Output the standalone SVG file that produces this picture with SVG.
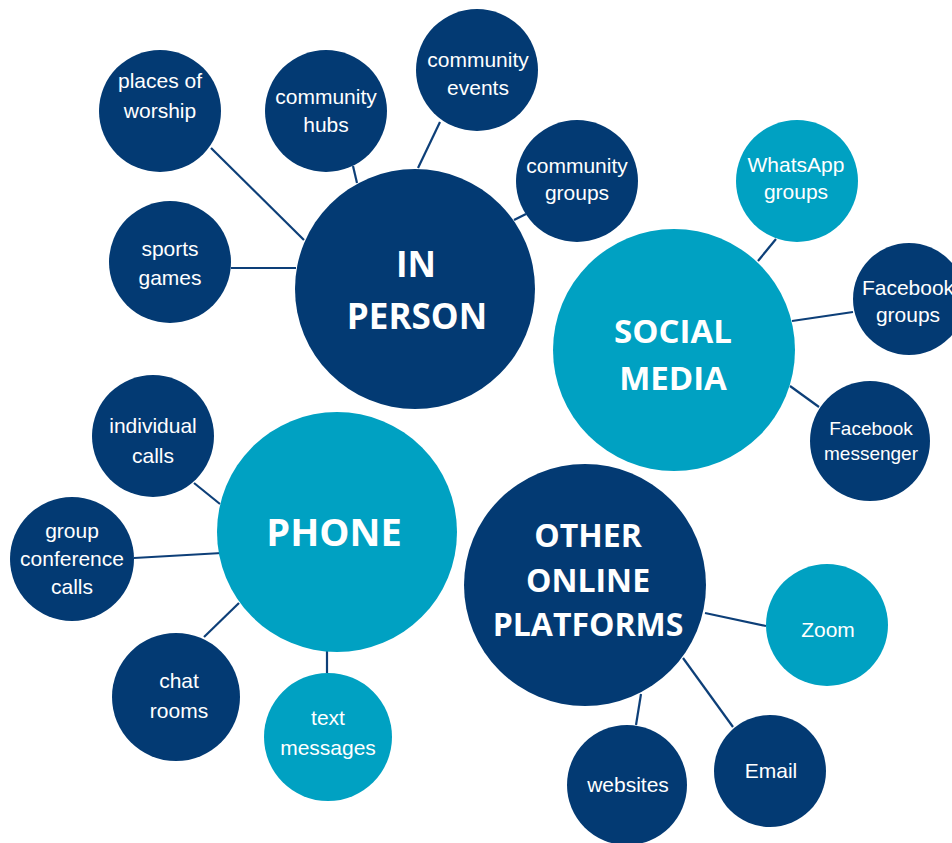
<svg xmlns="http://www.w3.org/2000/svg" width="952" height="843" viewBox="0 0 952 843">
  <style>
    .navy { fill: #033a73; }
    .teal { fill: #00a1c2; }
    .link { stroke: #0d3f78; stroke-width: 2.2; fill: none; }
    .lbl { fill: #ffffff; font-family: "Liberation Sans", Arial, sans-serif; font-size: 21px; text-anchor: middle; }
    .sm { font-size: 19px; }
    .hub { fill: #ffffff; font-family: "Open Sans", "Liberation Sans", sans-serif; font-weight: 700; text-anchor: middle; font-size: 33px; }
  </style>
  <rect width="952" height="843" fill="#ffffff"/>

  <!-- connectors -->
  <g id="connectors">
    <line class="link" x1="211" y1="148" x2="304" y2="240"/>
    <line class="link" x1="231" y1="268" x2="296" y2="268"/>
    <line class="link" x1="353" y1="166" x2="357" y2="183"/>
    <line class="link" x1="440" y1="122" x2="418" y2="168"/>
    <line class="link" x1="526" y1="214" x2="514" y2="220"/>
    <line class="link" x1="776" y1="239" x2="758" y2="261"/>
    <line class="link" x1="792" y1="321" x2="853" y2="312"/>
    <line class="link" x1="790" y1="386" x2="819" y2="407"/>
    <line class="link" x1="194" y1="483" x2="220" y2="504"/>
    <line class="link" x1="134" y1="558" x2="222" y2="553"/>
    <line class="link" x1="204" y1="637" x2="239" y2="603"/>
    <line class="link" x1="327" y1="651" x2="327" y2="673"/>
    <line class="link" x1="705" y1="613" x2="766" y2="626"/>
    <line class="link" x1="683" y1="658" x2="733" y2="727"/>
    <line class="link" x1="641" y1="694" x2="636" y2="725"/>
  </g>

  <!-- IN PERSON cluster -->
  <g id="in-person">
    <circle class="navy" cx="415" cy="289" r="120"/>
    <text class="hub" x="416" y="277" style="font-size:35px">IN</text>
    <text class="hub" x="417" y="329" style="font-size:35px">PERSON</text>
  </g>
  <g id="places-of-worship">
    <circle class="navy" cx="160" cy="111" r="61"/>
    <text class="lbl" x="160" y="88">places of</text>
    <text class="lbl" x="160" y="118">worship</text>
  </g>
  <g id="community-hubs">
    <circle class="navy" cx="326" cy="111" r="61"/>
    <text class="lbl" x="326" y="104">community</text>
    <text class="lbl" x="326" y="132">hubs</text>
  </g>
  <g id="community-events">
    <circle class="navy" cx="477" cy="70" r="61"/>
    <text class="lbl" x="478" y="67">community</text>
    <text class="lbl" x="478" y="95">events</text>
  </g>
  <g id="community-groups">
    <circle class="navy" cx="577" cy="181" r="61"/>
    <text class="lbl" x="577" y="173">community</text>
    <text class="lbl" x="577" y="200">groups</text>
  </g>
  <g id="sports-games">
    <circle class="navy" cx="170" cy="262" r="61"/>
    <text class="lbl" x="170" y="256">sports</text>
    <text class="lbl" x="170" y="285">games</text>
  </g>

  <!-- SOCIAL MEDIA cluster -->
  <g id="social-media">
    <circle class="teal" cx="674" cy="350" r="121"/>
    <text class="hub" x="673" y="343">SOCIAL</text>
    <text class="hub" x="673" y="390">MEDIA</text>
  </g>
  <g id="whatsapp-groups">
    <circle class="teal" cx="797" cy="181" r="61"/>
    <text class="lbl" x="796" y="172">WhatsApp</text>
    <text class="lbl" x="796" y="199">groups</text>
  </g>
  <g id="facebook-groups">
    <circle class="navy" cx="909" cy="299" r="56"/>
    <text class="lbl" x="908" y="295">Facebook</text>
    <text class="lbl" x="908" y="322">groups</text>
  </g>
  <g id="facebook-messenger">
    <circle class="navy" cx="870" cy="441" r="60"/>
    <text class="lbl sm" x="871" y="435">Facebook</text>
    <text class="lbl sm" x="871" y="460">messenger</text>
  </g>

  <!-- PHONE cluster -->
  <g id="phone">
    <circle class="teal" cx="337" cy="532" r="120"/>
    <text class="hub" x="334" y="546" style="font-size:38px">PHONE</text>
  </g>
  <g id="individual-calls">
    <circle class="navy" cx="153" cy="436" r="61"/>
    <text class="lbl" x="153" y="433">individual</text>
    <text class="lbl" x="153" y="463">calls</text>
  </g>
  <g id="group-conference-calls">
    <circle class="navy" cx="72" cy="559" r="62"/>
    <text class="lbl" x="72" y="538">group</text>
    <text class="lbl" x="72" y="566">conference</text>
    <text class="lbl" x="72" y="594">calls</text>
  </g>
  <g id="chat-rooms">
    <circle class="navy" cx="176" cy="697" r="64"/>
    <text class="lbl" x="179" y="688">chat</text>
    <text class="lbl" x="179" y="718">rooms</text>
  </g>
  <g id="text-messages">
    <circle class="teal" cx="328" cy="737" r="64"/>
    <text class="lbl" x="328" y="725">text</text>
    <text class="lbl" x="328" y="755">messages</text>
  </g>

  <!-- OTHER ONLINE PLATFORMS cluster -->
  <g id="other-online-platforms">
    <circle class="navy" cx="585" cy="585" r="121"/>
    <text class="hub" x="588" y="547" style="font-size:32px">OTHER</text>
    <text class="hub" x="588" y="592" style="font-size:32px">ONLINE</text>
    <text class="hub" x="588" y="636" style="font-size:32px">PLATFORMS</text>
  </g>
  <g id="zoom">
    <circle class="teal" cx="827" cy="625" r="61"/>
    <text class="lbl" x="828" y="637">Zoom</text>
  </g>
  <g id="email">
    <circle class="navy" cx="770" cy="771" r="56"/>
    <text class="lbl" x="771" y="778">Email</text>
  </g>
  <g id="websites">
    <circle class="navy" cx="627" cy="785" r="60"/>
    <text class="lbl" x="628" y="792">websites</text>
  </g>
</svg>
